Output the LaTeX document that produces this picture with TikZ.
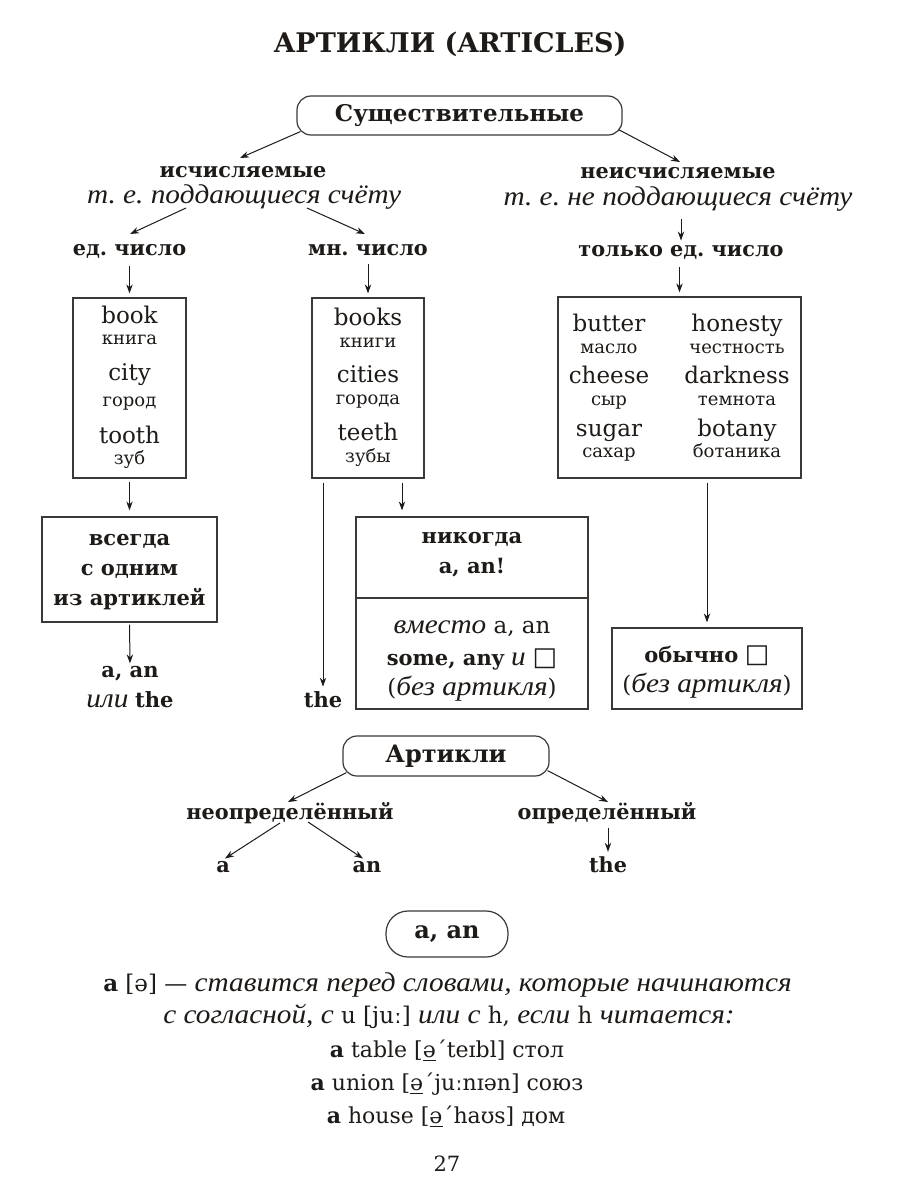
\documentclass[tikz,border=0pt]{standalone}
\usepackage{fontspec}
\setmainfont{DejaVu Serif}
\newfontfamily\itf[FakeStretch=1.08,Scale=1.13]{Liberation Serif}
\newfontfamily\symf{DejaVu Sans}
\usetikzlibrary{arrows.meta}
\definecolor{ink}{HTML}{1E1A17}
\definecolor{frame}{HTML}{3C3835}
\newcommand\It[1]{{\itf\itshape\fontsize{12}{14}\selectfont #1}}
\newcommand\emptysq{{\symf\fontsize{13}{13}\selectfont □}}
\frenchspacing
\begin{document}
\frenchspacing
\begin{tikzpicture}[x=0.5pt,y=-0.5pt,
  t/.style={inner sep=1pt, text=ink, anchor=base},
  ttl/.style={t, font=\bfseries\fontsize{13.5}{16}\selectfont},
  hd/.style={t, font=\bfseries\fontsize{10.4}{12}\selectfont},
  itl/.style={t, font=\itf\itshape\fontsize{12}{14}\selectfont},
  wd/.style={t, font=\fontsize{11.5}{13}\selectfont},
  tr/.style={t, font=\fontsize{9}{10}\selectfont},
  bt/.style={t, font=\bfseries\fontsize{10.5}{12}\selectfont},
  rg/.style={t, font=\fontsize{10.5}{12}\selectfont},
  bx/.style={draw=frame, line width=0.6pt, inner sep=0pt},
  rbox/.style={bx, rounded corners=7pt, text=ink},
  arr/.style={draw=ink, line width=0.5pt, -{Stealth[length=4.5pt,width=3.2pt]}}
]
\useasboundingbox (0,0) rectangle (900,1200);
\fill[white] (0,0) rectangle (900,1200);

% ---------- title
\node[ttl] (title) at (450,52) {АРТИКЛИ (ARTICLES)};

% ---------- nouns tree
\node[rbox, minimum width=162.5pt, minimum height=19.5pt,
      font=\bfseries\fontsize{11.5}{13}\selectfont] (noun) at (459.5,115.5) {Существительные};
\node[hd] (cnt) at (243,177) {исчисляемые};
\node[itl] (cntd) at (244,203) {т. е. поддающиеся счёту};
\node[hd] (unc) at (678,178) {неисчисляемые};
\node[itl] (uncd) at (678,205) {т. е. не поддающиеся счёту};
\node[hd] (sg) at (129.5,255) {ед. число};
\node[hd] (pl) at (368,255) {мн. число};
\node[hd] (only) at (681,256) {только ед. число};

\coordinate (cntin) at (240,158);
\coordinate (uncin) at (680,162);
\coordinate (s3) at (186,208);
\coordinate (e3) at (130,234);
\coordinate (s4) at (307,208);
\coordinate (e4) at (365,234);
\draw[arr] ([shift={(4,-4)}]noun.south west) -- (cntin);
\draw[arr] ([shift={(-4,-6)}]noun.south east) -- (uncin);
\draw[arr] (s3) -- (e3);
\draw[arr] (s4) -- (e4);
\draw[arr, shorten <=3pt, shorten >=1pt] (uncd.south -| only) -- (only.north);

% ---------- word boxes
\node[bx, minimum width=56.5pt, minimum height=90pt] (b1) at (129.5,388) {};
\node[bx, minimum width=56pt, minimum height=90pt] (b2) at (368,388) {};
\node[bx, minimum width=121.5pt, minimum height=90.5pt] (b3) at (679.5,387.5) {};

\draw[arr, shorten <=3pt, shorten >=2pt] (sg.south -| b1.north) -- (b1.north);
\draw[arr, shorten <=3pt, shorten >=2pt] (pl.south -| b2.north) -- (b2.north);
\draw[arr, shorten <=3pt, shorten >=2pt] (only.south -| b3.north) -- (b3.north);

\node[wd] (w11) at (129.5,323) {book};
\node[tr] (w12) at (129.5,344) {книга};
\node[wd] (w13) at (129.5,380) {city};
\node[tr] (w14) at (129.5,406) {город};
\node[wd] (w15) at (129.5,443) {tooth};
\node[tr] (w16) at (129.5,464) {зуб};

\node[wd] (w21) at (368,325) {books};
\node[tr] (w22) at (368,347) {книги};
\node[wd] (w23) at (368,382) {cities};
\node[tr] (w24) at (368,404) {города};
\node[wd] (w25) at (368,440) {teeth};
\node[tr] (w26) at (368,462) {зубы};

\node[wd] (w31) at (609,331) {butter};
\node[tr] (w32) at (609,353) {масло};
\node[wd] (w33) at (609,383) {cheese};
\node[tr] (w34) at (609,405) {сыр};
\node[wd] (w35) at (609,436) {sugar};
\node[tr] (w36) at (609,457) {сахар};
\node[wd] (w41) at (737,331) {honesty};
\node[tr] (w42) at (737,353) {честность};
\node[wd] (w43) at (737,383) {darkness};
\node[tr] (w44) at (737,405) {темнота};
\node[wd] (w45) at (737,436) {botany};
\node[tr] (w46) at (737,457) {ботаника};

% ---------- rule boxes
\node[bx, minimum width=87.5pt, minimum height=52.5pt] (all) at (129.5,569.5) {};
\node[bt] (all1) at (129.5,545) {всегда};
\node[bt] (all2) at (129.5,575) {с одним};
\node[bt] (all3) at (129.5,605) {из артиклей};

\node[bx, minimum width=116pt, minimum height=96pt] (never) at (472,613) {};
\draw[draw=frame, line width=0.6pt] (never.west |- 0,598) -- (never.east |- 0,598);
\node[bt] (nv1) at (472,543) {никогда};
\node[bt] (nv2) at (472,573) {a, an!};
\node[rg, font=\fontsize{11.5}{12}\selectfont] (nv3) at (472,633) {\It{вместо} a, an};
\node[rg] (nv4) at (472,665) {\textbf{some, any} \It{и} \emptysq};
\node[rg, font=\fontsize{11.5}{12}\selectfont] (nv5) at (472,695) {(\It{без артикля})};

\node[bx, minimum width=95pt, minimum height=40.5pt] (usual) at (707,668.5) {};
\node[rg] (us1) at (707,662) {\textbf{обычно} \emptysq};
\node[rg, font=\fontsize{11.5}{12}\selectfont] (us2) at (707,692) {(\It{без артикля})};

\node[bt] (aan) at (130,677) {a, an};
\node[rg] (orthe) at (130,707) {\It{или} \textbf{the}};
\node[bt] (the1) at (323,707) {the};

\draw[arr, shorten <=1.5pt, shorten >=3pt] (b1.south) -- (all.north);
\draw[arr, shorten <=1pt, shorten >=0pt] (all.south) -- (aan.north);
\draw[arr, shorten <=2pt, shorten >=3pt] ([xshift=17pt]b2.south) -- ([xshift=17pt]b2.south |- never.north);
\draw[arr, shorten <=2pt, shorten >=1pt] (the1.north |- b2.south) -- (the1.north);
\draw[arr, shorten <=2pt, shorten >=2.5pt] (usual.north |- b3.south) -- (usual.north);

% ---------- articles tree
\node[rbox, minimum width=103pt, minimum height=20pt,
      font=\bfseries\fontsize{12}{14}\selectfont] (art) at (446,756) {Артикли};
\node[hd] (indef) at (290,819) {неопределённый};
\node[hd] (def) at (607,819) {определённый};
\node[hd] (ia) at (223,872) {a};
\node[hd] (ian) at (367,872) {an};
\node[hd] (dthe) at (608,872) {the};

\coordinate (ie) at (288,802);
\coordinate (de) at (608,802);
\coordinate (ias) at (280,823);
\coordinate (ians) at (308,822);
\draw[arr] ([shift={(4,-4)}]art.south west) -- (ie);
\draw[arr] ([shift={(-2,-6)}]art.south east) -- (de);
\draw[arr] (ias) -- ([xshift=1pt]ia.north);
\draw[arr] (ians) -- ([xshift=-2pt]ian.north);
\draw[arr, shorten <=1pt, shorten >=1pt] (def.south -| dthe) -- (dthe.north);

% ---------- a, an
\node[bx, rounded corners=11pt, minimum width=61pt, minimum height=23pt,
      text=ink, font=\bfseries\fontsize{12}{14}\selectfont] (aanbox) at (447,934) {a, an};

\node[rg, font=\fontsize{11.5}{13}\selectfont] (l1) at (447.5,991) {\textbf{a} [ə] — \It{ставится перед словами, которые начинаются}};
\node[rg, font=\fontsize{11.5}{13}\selectfont] (l2) at (449,1023) {\It{с согласной, с} u [juː] \It{или с} h, \It{если} h \It{читается:}};
\node[rg, font=\fontsize{11}{13}\selectfont] (l3) at (447,1057) {\textbf{a} table [\underline{ə}ˊteɪbl] стол};
\node[rg, font=\fontsize{11}{13}\selectfont] (l4) at (447,1090) {\textbf{a} union [\underline{ə}ˊjuːnɪən] союз};
\node[rg, font=\fontsize{11}{13}\selectfont] (l5) at (446,1123) {\textbf{a} house [\underline{ə}ˊhaʊs] дом};
\node[rg] (page) at (447,1171) {27};
\end{tikzpicture}
\end{document}
